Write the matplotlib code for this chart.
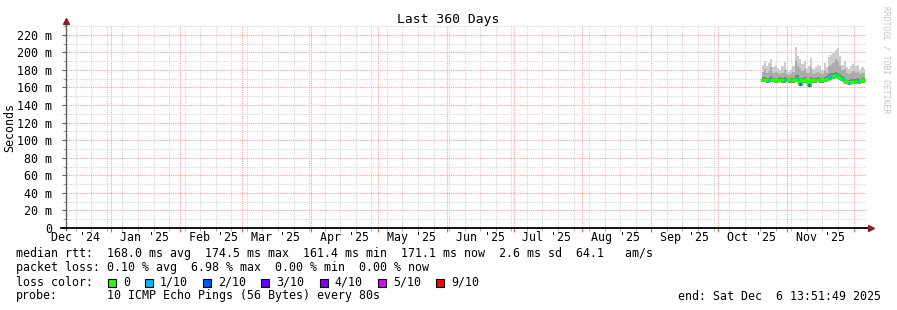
import matplotlib
matplotlib.use("Agg")
import matplotlib.pyplot as plt
import matplotlib.dates as mdates
from matplotlib.patches import Rectangle
from matplotlib.transforms import blended_transform_factory
import pandas as pd

#------------- data ---------------------
start_time = pd.Timestamp("2024-12-11 13:51:49")
end_time = pd.Timestamp("2025-12-06 13:51:49")
days = pd.date_range("2025-10-21", "2025-12-06", freq="D")

rtt_median = [169.0, 168.5, 168.0, 168.0, 169.0, 168.0, 167.5, 168.0, 169.0, 168.0,
              168.0, 168.5, 168.0, 168.0, 168.0, 169.0, 170.0, 164.0, 168.0, 168.0,
              167.0, 163.0, 168.0, 168.0, 168.0, 168.5, 168.0, 168.0, 169.0, 170.0,
              171.0, 172.0, 173.0, 174.0, 172.0, 171.0, 170.0, 167.0, 166.0, 165.5,
              166.0, 166.5, 166.0, 167.0, 167.0, 168.0, 168.0]
rtt_low = [166.5, 166.0, 165.5, 165.5, 166.5, 166.0, 165.0, 165.5, 166.5, 165.5,
           165.5, 166.0, 165.5, 165.5, 165.5, 166.5, 167.0, 161.5, 165.5, 165.5,
           164.5, 161.4, 165.5, 165.5, 165.5, 166.0, 165.5, 165.5, 166.5, 167.5,
           168.5, 169.5, 170.0, 171.0, 169.5, 168.5, 167.5, 164.5, 163.5, 163.0,
           163.5, 164.0, 163.5, 164.5, 164.5, 165.5, 165.5]
rtt_q70 = [172, 172, 171, 171, 173, 171, 170, 171, 172, 171,
           172, 171, 170, 171, 171, 174, 174, 170, 171, 172,
           170, 169, 172, 171, 171, 172, 171, 170, 172, 173,
           175, 176, 177, 178, 176, 175, 173, 171, 169, 169,
           170, 170, 170, 171, 170, 171, 171]
rtt_q90 = [178, 181, 177, 179, 183, 176, 178, 176, 175, 177,
           180, 175, 174, 175, 178, 190, 184, 182, 179, 181,
           176, 177, 183, 175, 176, 178, 177, 175, 179, 177,
           185, 186, 188, 192, 190, 185, 180, 181, 176, 175,
           177, 179, 177, 178, 175, 177, 176]
rtt_high = [186, 190, 184, 188, 192, 183, 186, 182, 180, 184,
            189, 181, 178, 180, 185, 206, 196, 192, 187, 190,
            182, 184, 194, 181, 183, 186, 185, 180, 188, 183,
            195, 197, 199, 203, 205, 196, 186, 190, 183, 181,
            184, 187, 184, 186, 180, 183, 181]
loss = [0, 0, 0, 1, 0, 0, 0, 0, 0, 0, 1, 0, 0, 0, 0, 0, 1, 2, 0, 0,
        0, 2, 0, 0, 0, 0, 0, 0, 0, 0, 1, 1, 0, 1, 0, 0, 1, 0, 0, 1,
        0, 0, 0, 1, 0, 0, 0]

loss_labels = ["0", "1/10", "2/10", "3/10", "4/10", "5/10", "9/10"]
loss_colors = ["#26ff00", "#00b8ff", "#0059ff", "#5e00ff", "#7e00ff", "#dd00ff", "#ff0000"]

y_ticks = [0, 20, 40, 60, 80, 100, 120, 140, 160, 180, 200, 220]
#----------------------------------------

W, H = 897, 310
MONO = "DejaVu Sans Mono"
FS = 8.4

fig = plt.figure(figsize=(W / 100, H / 100), dpi=100)
fig.patch.set_facecolor("white")
ax = fig.add_axes([66 / W, 1 - 228 / H, 800 / W, 202 / H])
ax.set_xlim(start_time, end_time)
ax.set_ylim(0, 226.7)
for s in ax.spines.values():
    s.set_visible(False)

# smoke
half = pd.Timedelta(hours=12)
ax.fill_between(days, rtt_low, rtt_high, step="mid", color="#cccccc", lw=0, zorder=2)
ax.fill_between(days, rtt_low, rtt_q90, step="mid", color="#ababab", lw=0, zorder=3)
ax.fill_between(days, rtt_low, rtt_q70, step="mid", color="#808080", lw=0, zorder=4)

# median coloured by loss
ax.step(days, rtt_median, where="mid", color=loss_colors[0], lw=2.4, zorder=5)
for d, m, l in zip(days, rtt_median, loss):
    if l > 0:
        ax.plot([d - half, d + half], [m, m], color=loss_colors[l], lw=2.4,
                solid_capstyle="butt", zorder=6)

# grid
ax.xaxis.set_major_locator(mdates.MonthLocator())
ax.xaxis.set_minor_locator(mdates.WeekdayLocator(byweekday=mdates.MO))
ax.set_yticks(y_ticks)
ax.set_yticks([v + 10 for v in y_ticks], minor=True)
ax.grid(True, which="minor", color="#d6d6d6", ls=(0, (1, 1)), lw=0.8, zorder=0)
ax.grid(True, which="major", color="#f2a4a4", ls=(0, (1, 1)), lw=0.8, zorder=1)
ax.set_axisbelow(True)

ax.set_xticklabels([])
ax.set_yticklabels([f"{v} m" if v else "0" for v in y_ticks], family=MONO, fontsize=FS)
ax.tick_params(axis="y", which="major", length=3, color="#606060", pad=7, direction="out")
ax.tick_params(axis="y", which="minor", length=2, color="#909090", direction="out")
ax.tick_params(axis="x", which="major", length=3, color="#e06060", direction="out")
ax.tick_params(axis="x", which="minor", length=2, color="#a0a0a0", direction="out")

# month labels in the middle of each month
tr = blended_transform_factory(ax.transData, ax.transAxes)
for mth in pd.date_range("2024-12-01", "2025-11-01", freq="MS"):
    mid = mth + pd.Timedelta(days=15)
    ax.text(mid, -0.047, mth.strftime("%b '%y"), transform=tr, ha="center", va="center",
            family=MONO, fontsize=FS)

# axis lines with arrows
ax.plot([0, 0], [-0.01, 1.02], transform=ax.transAxes, color="#606060", lw=1, clip_on=False, zorder=7)
ax.plot([-0.006, 1.004], [0, 0], transform=ax.transAxes, color="black", lw=1.3, clip_on=False, zorder=7)
ax.plot([1.006], [0], marker=">", ms=4, color="#8b2020", transform=ax.transAxes, clip_on=False, zorder=8)
ax.plot([0], [1.025], marker="^", ms=4, color="#8b2020", transform=ax.transAxes, clip_on=False, zorder=8)

ax.set_ylabel("Seconds", family=MONO, fontsize=FS)
ax.yaxis.set_label_coords(-50 / 800, 0.5)


def ftext(x, y, s, **kw):
    kw.setdefault("family", MONO)
    kw.setdefault("fontsize", FS)
    kw.setdefault("va", "center")
    fig.text(x / W, 1 - y / H, s, **kw)


ftext(448, 19, "Last 360 Days", fontsize=9.4, ha="center")
ftext(886, 60, "RRDTOOL / TOBI OETIKER", fontsize=5.8, rotation=270, ha="center",
      color="#c4c4c4")

ftext(16, 254, "median rtt:  168.0 ms avg  174.5 ms max  161.4 ms min  171.1 ms now  2.6 ms sd  64.1   am/s")
ftext(16, 268, "packet loss: 0.10 % avg  6.98 % max  0.00 % min  0.00 % now")
ftext(16, 282, "loss color:")
x = 108
for lab, col in zip(loss_labels, loss_colors):
    fig.patches.append(Rectangle((x / W, 1 - 286.5 / H), 8 / W, 8 / H, transform=fig.transFigure,
                                 facecolor=col, edgecolor="black", lw=0.8))
    ftext(x + 15, 282, lab)
    x += 15 + len(lab) * 7.05 + 15
ftext(16, 296, "probe:")
ftext(107, 296, "10 ICMP Echo Pings (56 Bytes) every 80s")
ftext(881, 296, "end: Sat Dec  6 13:51:49 2025", ha="right")

fig.savefig("out.png", dpi=100, facecolor="white")
